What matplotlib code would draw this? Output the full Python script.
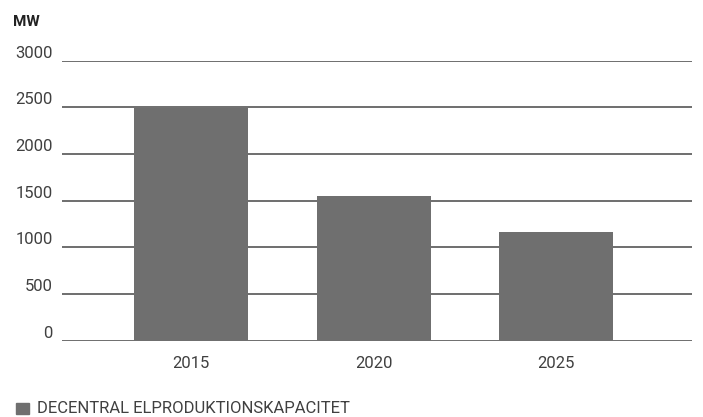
import matplotlib.pyplot as plt
from matplotlib.patches import Rectangle

# data
years = ['2015', '2020', '2025']
capacity_mw = [2490, 1545, 1160]
y_ticks = [0, 500, 1000, 1500, 2000, 2500, 3000]

bar_color = '#6f6f6f'
grid_color = '#555555'
text_color = '#404040'

plt.rcParams['font.family'] = ['Roboto', 'DejaVu Sans']

fig = plt.figure(figsize=(7.03, 4.17), dpi=100)
ax = fig.add_axes([62 / 703, 1 - 340.7 / 417, 630 / 703, 280.2 / 417])

x = range(len(years))
ax.bar(x, capacity_mw, width=0.625, color=bar_color, zorder=3)

ax.set_ylim(0, 3000)
ax.set_xlim(-0.707, 2.745)
ax.set_yticks(y_ticks)
ax.set_yticklabels([str(v) for v in y_ticks])
ax.set_xticks(list(x))
ax.set_xticklabels(years)

for v in y_ticks:
    ax.axhline(v, color=grid_color, linewidth=1.2, zorder=2)

for s in ax.spines.values():
    s.set_visible(False)
ax.tick_params(axis='y', length=0, pad=6.5, labelsize=12, labelcolor=text_color)
ax.tick_params(axis='x', length=0, pad=11, labelsize=12, labelcolor=text_color)
for lbl in ax.get_yticklabels():
    lbl.set_verticalalignment('bottom')

fig.text(13 / 703, 1 - 21.5 / 417, 'MW', fontsize=11, fontweight='bold',
         color='#222222', va='center', ha='left')

# legend
fig.patches.append(Rectangle((16 / 703, 1 - 414 / 417), 13 / 703, 11.5 / 417,
                             transform=fig.transFigure, color=bar_color))
fig.text(37 / 703, 1 - 408.5 / 417, 'DECENTRAL ELPRODUKTIONSKAPACITET',
         fontsize=12, color=text_color, va='center', ha='left')

fig.savefig('out.png', dpi=100)
